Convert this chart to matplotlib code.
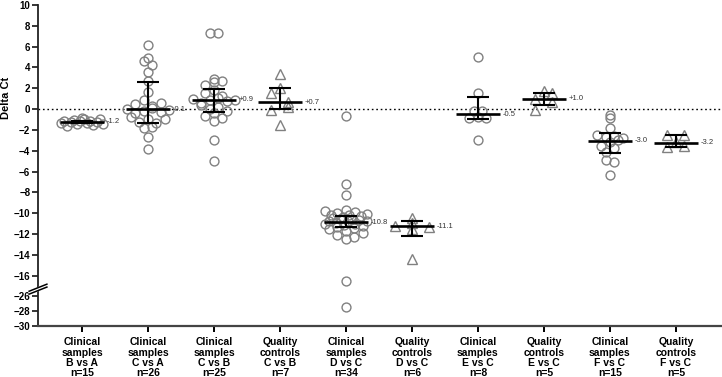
import numpy as np
import matplotlib
matplotlib.use("Agg")
import matplotlib.pyplot as plt

plt.rcParams['font.family'] = ['Liberation Sans', 'DejaVu Sans']

# Data
labels = ['Clinical\nsamples\nB vs A\nn=15', 'Clinical\nsamples\nC vs A\nn=26',
          'Clinical\nsamples\nC vs B\nn=25', 'Quality\ncontrols\nC vs B\nn=7',
          'Clinical\nsamples\nD vs C\nn=34', 'Quality\ncontrols\nD vs C\nn=6',
          'Clinical\nsamples\nE vs C\nn=8', 'Quality\ncontrols\nE vs C\nn=5',
          'Clinical\nsamples\nF vs C\nn=15', 'Quality\ncontrols\nF vs C\nn=5']
is_qc = [False, False, False, True, False, True, False, True, False, True]

b_vs_a = [-0.9, -0.95, -1.0, -1.05, -1.1, -1.1, -1.15, -1.2, -1.25, -1.3, -1.35,
          -1.4, -1.45, -1.5, -1.6]
c_vs_a = [6.2, 4.9, 4.6, 4.2, 3.6, 2.7, 1.6, 0.9, 0.6, 0.5, 0.3, 0.1, 0.0, -0.1,
          -0.2, -0.3, -0.4, -0.8, -1.0, -1.0, -1.2, -1.3, -1.7, -1.8, -2.7, -3.8]
c_vs_b = [7.3, 7.3, 2.9, 2.7, 2.6, 2.3, 1.8, 1.5, 1.3, 1.1, 1.0, 0.9, 0.9, 0.8,
          0.6, 0.4, 0.2, 0.0, -0.2, -0.4, -0.7, -0.9, -1.1, -3.0, -5.0]
qc_c_vs_b = [3.4, 2.0, 1.5, 0.7, 0.2, -0.1, -1.5]
d_vs_c = [-0.7, -7.2, -8.3, -9.7, -9.8, -9.9, -10.0, -10.1, -10.2, -10.2, -10.3,
          -10.4, -10.5, -10.6, -10.6, -10.7, -10.8, -10.8, -10.8, -10.9, -11.0,
          -11.0, -11.1, -11.2, -11.3, -11.4, -11.5, -11.7, -11.9, -12.1, -12.3,
          -12.5, -16.5, -27.4]
qc_d_vs_c = [-10.5, -10.9, -11.2, -11.3, -11.5, -14.4]
e_vs_c = [5.0, 1.5, -0.2, -0.2, -0.8, -0.9, -0.9, -3.0]
qc_e_vs_c = [1.7, 1.5, 1.0, 0.7, -0.1]
f_vs_c = [-0.6, -0.9, -1.85, -2.5, -2.6, -2.7, -2.8, -3.0, -3.2, -3.5, -3.7, -4.1,
          -4.9, -5.1, -6.3]
qc_f_vs_c = [-2.5, -2.5, -3.2, -3.5, -3.6]
groups = [b_vs_a, c_vs_a, c_vs_b, qc_c_vs_b, d_vs_c, qc_d_vs_c, e_vs_c,
          qc_e_vs_c, f_vs_c, qc_f_vs_c]

medians = [-1.2, 0.0, 0.9, 0.65, -10.85, -11.25, -0.5, 1.0, -3.05, -3.25]
q1 = [-1.3, -1.3, -0.25, 0.0, -11.3, -12.2, -0.95, 0.35, -4.2, -3.6]
q3 = [-1.1, 2.6, 1.9, 2.05, -10.25, -10.8, 1.2, 1.5, -2.3, -2.5]
median_text = ['-1.2', '-0.1', '+0.9', '+0.7', '-10.8', '-11.1', '-0.5', '+1.0',
               '-3.0', '-3.2']

# broken y axis: -17 .. -25.5 squeezed into a small gap, lower part compressed
A, B, GAP, K = -17.0, -25.5, 0.6, 0.72


def fwd(y):
    y = np.asarray(y, dtype=float)
    return np.where(y >= A, y,
                    np.where(y >= B, A - (A - y) / (A - B) * GAP,
                             A - GAP + (y - B) * K))


def inv(z):
    z = np.asarray(z, dtype=float)
    return np.where(z >= A, z,
                    np.where(z >= A - GAP, A - (A - z) / GAP * (A - B),
                             B + (z - (A - GAP)) / K))


def row_scatter(vals, row_h=0.75, step=8.5, max_w=42.0, px_x=66.0):
    # Prism style: points in the same row are spread side by side,
    # slots shuffled so a row does not look like a slope
    vals = np.asarray(vals, dtype=float)
    rows = np.floor((vals - vals.max()) / row_h + 1e-9).astype(int)
    xs = np.zeros(len(vals))
    for r in np.unique(rows):
        idx = np.where(rows == r)[0]
        n = len(idx)
        if n == 1:
            continue
        s = min(step, max_w / (n - 1))
        slots = (np.arange(n) - (n - 1) / 2) * s
        order = np.argsort((np.arange(n) * 0.618 + 0.3 * r) % 1)
        xs[idx] = slots[order]
    return xs / px_x


fig = plt.figure(figsize=(7.22, 3.77), dpi=100)
ax = fig.add_axes([38 / 722, 1 - 326 / 377, 684 / 722, 321 / 377])
ax.set_yscale('function', functions=(fwd, inv))
ax.set_ylim(-30, 10)
ax.set_xlim(-0.667, 9.7)

grey = '#808080'
for i, vals in enumerate(groups):
    if is_qc[i]:
        off = row_scatter(vals, row_h=0.9, step=17.0, max_w=35.0)
    else:
        off = row_scatter(vals)
    ax.plot(i + off, vals, ls='none', marker='^' if is_qc[i] else 'o',
            ms=7.5 if is_qc[i] else 6.4, mfc='none', mec=grey, mew=1.0, zorder=2)
    ax.hlines(medians[i], i - 0.33, i + 0.33, color='black', lw=1.9, zorder=3)
    ax.vlines(i, q1[i], q3[i], color='black', lw=1.5, zorder=3)
    ax.hlines([q1[i], q3[i]], i - 0.17, i + 0.17, color='black', lw=1.5, zorder=3)
    ax.text(i + 0.38, medians[i], median_text[i], fontsize=5.5, color='#333333',
            va='center', ha='left')

ax.axhline(0, color='black', lw=1, ls=(0, (1.2, 2)), zorder=1)

ax.set_yticks([10, 8, 6, 4, 2, 0, -2, -4, -6, -8, -10, -12, -14, -16, -26, -28, -30])
ax.set_xticks(range(len(labels)))
ax.set_xticklabels(labels, fontsize=7.5, fontweight='bold', linespacing=1.05)
for t in ax.get_yticklabels():
    t.set_fontweight('bold')
    t.set_fontsize(7)
ax.set_ylabel('Delta Ct', fontsize=8, fontweight='bold')
ax.yaxis.set_label_coords(-0.04, 0.71)

for s in ['top', 'right']:
    ax.spines[s].set_visible(False)
ax.spines['left'].set_color('#222222')
ax.spines['left'].set_linewidth(1.3)
ax.spines['bottom'].set_color('#444444')
ax.spines['bottom'].set_linewidth(1.6)
ax.tick_params(axis='y', length=4, width=1.1, pad=1.5)
ax.tick_params(axis='x', length=4, width=1.4, pad=4)

# break marks on the y spine
lo, hi = fwd(-30), fwd(10)
yb = float((fwd((A + B) / 2) - lo) / (hi - lo))
dx, dy, sep = 0.013, 0.011, 0.009
ax.fill([-dx, dx, dx, -dx], [yb - dy - sep / 2, yb + dy - sep / 2, yb + dy + sep / 2,
        yb - dy + sep / 2], color='white', transform=ax.transAxes, clip_on=False, zorder=5)
for s in (-sep / 2, sep / 2):
    ax.plot([-dx, dx], [yb - dy + s, yb + dy + s], color='black', lw=1.1,
            transform=ax.transAxes, clip_on=False, zorder=6)

fig.savefig('out.png', dpi=100)
